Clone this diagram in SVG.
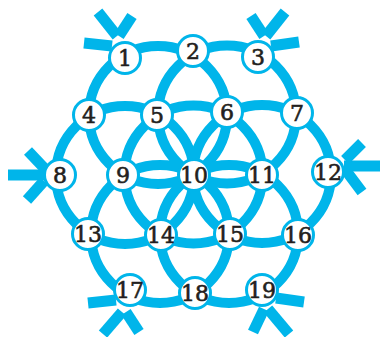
<svg xmlns="http://www.w3.org/2000/svg" width="380" height="337" viewBox="0 0 380 337">
<style>
.ring{fill:none;stroke:#00b5ea;stroke-width:10}
.stub{stroke:#00b5ea;stroke-width:11;stroke-linecap:butt}
.node circle{fill:#fff;stroke:#00b5ea;stroke-width:3}
.node text{font-family:"DejaVu Serif","Liberation Serif",serif;font-size:22px;fill:#231f20;stroke:#231f20;stroke-width:0.6;text-anchor:middle}
</style>
<rect width="380" height="337" fill="#fff"/>
<g id="connectors">
<circle class="ring" cx="158" cy="115" r="69"/>
<circle class="ring" cx="227" cy="114.5" r="69"/>
<circle class="ring" cx="125" cy="175" r="69"/>
<circle class="ring" cx="193.5" cy="174.5" r="69"/>
<circle class="ring" cx="262" cy="174" r="69"/>
<circle class="ring" cx="160" cy="234" r="69"/>
<circle class="ring" cx="229" cy="234" r="69"/>
<line class="stub" x1="117" y1="36" x2="98" y2="12"/>
<line class="stub" x1="119" y1="36" x2="132" y2="16"/>
<line class="stub" x1="112" y1="46" x2="84" y2="43"/>
<line class="stub" x1="266" y1="36" x2="285" y2="12"/>
<line class="stub" x1="264" y1="36" x2="251" y2="16"/>
<line class="stub" x1="271" y1="46" x2="299" y2="42"/>
<line class="stub" x1="45" y1="175" x2="8" y2="175"/>
<line class="stub" x1="46" y1="170" x2="28" y2="151"/>
<line class="stub" x1="44" y1="181" x2="27" y2="200"/>
<line class="stub" x1="344" y1="166" x2="380" y2="166"/>
<line class="stub" x1="345" y1="160" x2="362" y2="143"/>
<line class="stub" x1="344" y1="168" x2="362" y2="192"/>
<line class="stub" x1="116" y1="300" x2="88" y2="303"/>
<line class="stub" x1="122" y1="312" x2="103" y2="334"/>
<line class="stub" x1="126" y1="312" x2="139" y2="332"/>
<line class="stub" x1="276" y1="298" x2="304" y2="302"/>
<line class="stub" x1="268" y1="309" x2="289" y2="334"/>
<line class="stub" x1="264" y1="309" x2="253" y2="332"/>
</g>
<g id="n1" class="node"><circle cx="125" cy="58" r="15.5"/><text x="125" y="66">1</text></g>
<g id="n2" class="node"><circle cx="193" cy="51" r="15.5"/><text x="193" y="59">2</text></g>
<g id="n3" class="node"><circle cx="258" cy="57" r="15.5"/><text x="258" y="65">3</text></g>
<g id="n4" class="node"><circle cx="89" cy="115" r="15.5"/><text x="89" y="123">4</text></g>
<g id="n5" class="node"><circle cx="157" cy="115" r="15.5"/><text x="157" y="123">5</text></g>
<g id="n6" class="node"><circle cx="227" cy="112" r="15.5"/><text x="227" y="120">6</text></g>
<g id="n7" class="node"><circle cx="297" cy="113" r="15.5"/><text x="297" y="121">7</text></g>
<g id="n8" class="node"><circle cx="60" cy="175" r="15.5"/><text x="60" y="183">8</text></g>
<g id="n9" class="node"><circle cx="123" cy="175" r="15.5"/><text x="123" y="183">9</text></g>
<g id="n10" class="node"><circle cx="194" cy="175" r="15.5"/><text x="194" y="183">10</text></g>
<g id="n11" class="node"><circle cx="262" cy="175" r="15.5"/><text x="262" y="183">11</text></g>
<g id="n12" class="node"><circle cx="328" cy="172" r="15.5"/><text x="328" y="180">12</text></g>
<g id="n13" class="node"><circle cx="88" cy="234" r="15.5"/><text x="88" y="242">13</text></g>
<g id="n14" class="node"><circle cx="161" cy="235" r="15.5"/><text x="161" y="243">14</text></g>
<g id="n15" class="node"><circle cx="230" cy="234" r="15.5"/><text x="230" y="242">15</text></g>
<g id="n16" class="node"><circle cx="298" cy="235" r="15.5"/><text x="298" y="243">16</text></g>
<g id="n17" class="node"><circle cx="130" cy="290" r="15.5"/><text x="130" y="298">17</text></g>
<g id="n18" class="node"><circle cx="195" cy="293" r="15.5"/><text x="195" y="301">18</text></g>
<g id="n19" class="node"><circle cx="262" cy="290" r="15.5"/><text x="262" y="298">19</text></g>
</svg>
